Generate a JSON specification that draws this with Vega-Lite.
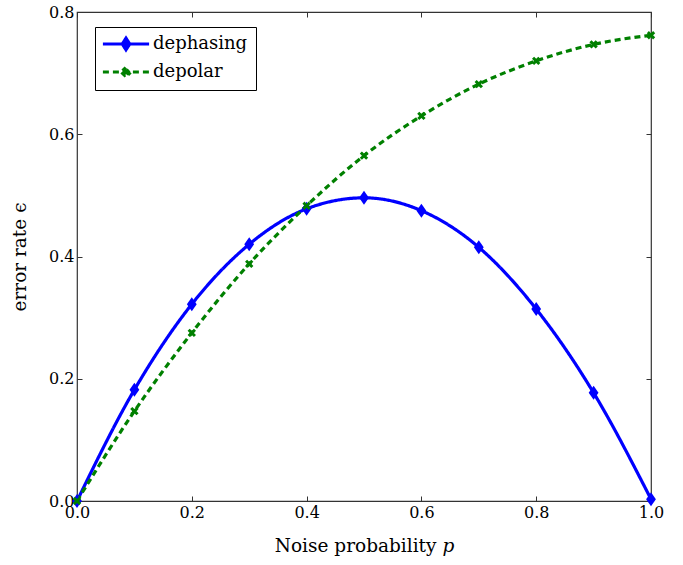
{
  "$schema": "https://vega.github.io/schema/vega-lite/v6.json",
  "autosize": {"type": "none"},
  "padding": {"left": 77, "top": 12, "right": 32, "bottom": 64},
  "width": 574,
  "height": 489,
  "config": {
    "font": "DejaVu Serif",
    "view": {"stroke": "#333", "strokeWidth": 1.2},
    "axis": {
      "labelFont": "DejaVu Serif",
      "titleFont": "DejaVu Serif",
      "labelFontSize": 16,
      "titleFontSize": 18.5,
      "titleFontWeight": "normal",
      "labelColor": "black",
      "titleColor": "black",
      "labelFlush": false,
      "grid": false,
      "domain": false,
      "tickColor": "#333",
      "tickSize": -5,
      "tickWidth": 1
    },
    "legend": {
      "labelFont": "DejaVu Serif",
      "labelFontSize": 18,
      "labelColor": "black"
    }
  },
  "data": {
    "values": [
      {"p": 0.0, "eps": 0.0, "series": "dephasing"},
      {"p": 0.1, "eps": 0.182, "series": "dephasing"},
      {"p": 0.2, "eps": 0.322, "series": "dephasing"},
      {"p": 0.3, "eps": 0.42, "series": "dephasing"},
      {"p": 0.4, "eps": 0.478, "series": "dephasing"},
      {"p": 0.5, "eps": 0.496, "series": "dephasing"},
      {"p": 0.6, "eps": 0.475, "series": "dephasing"},
      {"p": 0.7, "eps": 0.415, "series": "dephasing"},
      {"p": 0.8, "eps": 0.314, "series": "dephasing"},
      {"p": 0.9, "eps": 0.177, "series": "dephasing"},
      {"p": 1.0, "eps": 0.003, "series": "dephasing"},
      {"p": 0.0, "eps": 0.0, "series": "depolar"},
      {"p": 0.1, "eps": 0.147, "series": "depolar"},
      {"p": 0.2, "eps": 0.275, "series": "depolar"},
      {"p": 0.3, "eps": 0.388, "series": "depolar"},
      {"p": 0.4, "eps": 0.483, "series": "depolar"},
      {"p": 0.5, "eps": 0.565, "series": "depolar"},
      {"p": 0.6, "eps": 0.63, "series": "depolar"},
      {"p": 0.7, "eps": 0.682, "series": "depolar"},
      {"p": 0.8, "eps": 0.72, "series": "depolar"},
      {"p": 0.9, "eps": 0.747, "series": "depolar"},
      {"p": 1.0, "eps": 0.762, "series": "depolar"}
    ]
  },
  "layer": [
    {
      "mark": {"type": "line", "interpolate": "monotone", "strokeWidth": 3.2, "clip": false},
      "encoding": {
        "x": {"field": "p", "type": "quantitative", "scale": {"domain": [0, 1], "nice": false}, "axis": {"orient": "bottom", "values": [0, 0.2, 0.4, 0.6, 0.8, 1.0], "format": ".1f", "title": "Noise probability 𝑝", "labelPadding": 8, "titlePadding": 16}},
        "y": {"field": "eps", "type": "quantitative", "scale": {"domain": [0, 0.8], "nice": false}, "axis": {"orient": "left", "values": [0, 0.2, 0.4, 0.6, 0.8], "format": ".1f", "title": "error rate ϵ", "labelPadding": 8, "titlePadding": 19}},
        "color": {"field": "series", "type": "nominal", "scale": {"domain": ["dephasing", "depolar"], "range": ["#0000ff", "#008000"]}, "legend": {"title": null, "orient": "none", "legendX": 18, "legendY": 15, "strokeColor": "black", "fillColor": "white", "padding": 8, "symbolStrokeWidth": 3, "symbolSize": 196, "symbolOpacity": 1, "symbolOffset": 14, "rowPadding": 6, "labelOffset": 18}},
        "strokeDash": {"field": "series", "type": "nominal", "scale": {"domain": ["dephasing", "depolar"], "range": [[1, 0], [6, 4]]}, "legend": {"title": null}}
      }
    },
    {
      "mark": {"type": "point", "filled": true, "opacity": 1, "clip": false, "size": 196},
      "encoding": {
        "x": {"field": "p", "type": "quantitative", "axis": null},
        "y": {"field": "eps", "type": "quantitative", "axis": null},
        "shape": {
          "condition": {"test": "datum.series === 'dephasing'", "value": "M0,-1L0.7,0L0,1L-0.7,0Z"},
          "value": "M-0.6,-0.3L-0.3,-0.6L0,-0.3L0.3,-0.6L0.6,-0.3L0.3,0L0.6,0.3L0.3,0.6L0,0.3L-0.3,0.6L-0.6,0.3L-0.3,0Z"
        },
        "color": {"field": "series", "type": "nominal", "legend": null}
      }
    },
    {
      "transform": [{"filter": "false"}],
      "mark": {"type": "point", "filled": true, "opacity": 1, "clip": false},
      "encoding": {
        "x": {"field": "p", "type": "quantitative", "axis": null},
        "y": {"field": "eps", "type": "quantitative", "axis": null},
        "shape": {"field": "series", "type": "nominal", "scale": {"domain": ["dephasing", "depolar"], "range": ["M-3.3,0L3.3,0M0,-0.85L0.55,0L0,0.85L-0.55,0Z", "M-3.3,0L3.3,0M-0.5,-0.2L-0.2,-0.5L0,-0.3L0.2,-0.5L0.5,-0.2L0.3,0L0.5,0.2L0.2,0.5L0,0.3L-0.2,0.5L-0.5,0.2L-0.3,0Z"]}, "legend": {"title": null}},
        "color": {"field": "series", "type": "nominal"}
      }
    },
    {
      "mark": {"type": "point", "opacity": 0},
      "encoding": {
        "x": {"field": "p", "type": "quantitative", "axis": {"orient": "top", "values": [0, 0.2, 0.4, 0.6, 0.8, 1.0], "labels": false, "title": null}},
        "y": {"field": "eps", "type": "quantitative", "axis": {"orient": "right", "values": [0, 0.2, 0.4, 0.6, 0.8], "labels": false, "title": null}}
      }
    }
  ],
  "resolve": {"axis": {"x": "independent", "y": "independent"}}
}
